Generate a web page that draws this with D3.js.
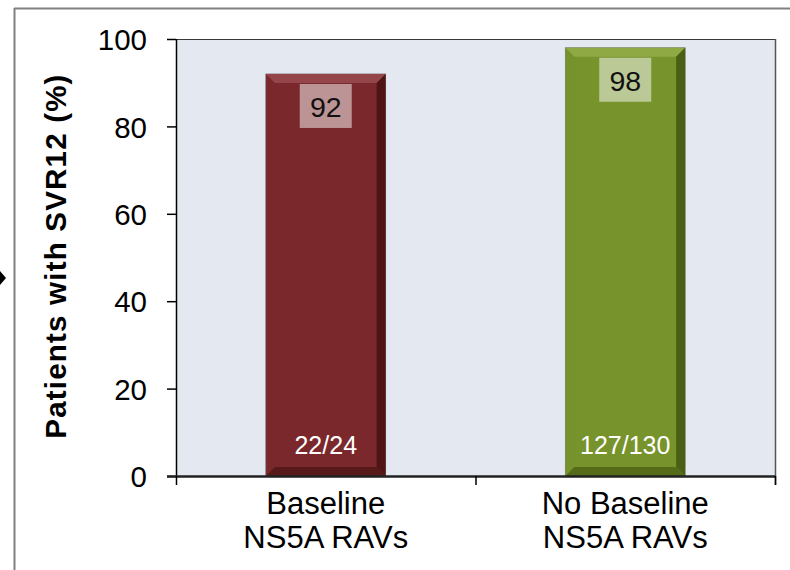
<!DOCTYPE html>
<html><head><meta charset="utf-8">
<script src="https://cdn.jsdelivr.net/npm/d3@7"></script>
<style>body{margin:0;background:#fff}svg{display:block}</style>
</head><body>
<svg id="c" width="790" height="570"></svg>
<script>
const categories = [["Baseline","NS5A RAVs"],["No Baseline","NS5A RAVs"]];
const values = [92, 98];
const fractions = ["22/24", "127/130"];
const colors = ["#7A282B", "#77932C"];
const lightColors = ["#94464A", "#8FAA44"];
const darkColors = ["#4E1416", "#4A5E14"];
const yTicks = [0, 20, 40, 60, 80, 100];
const yTitle = "Patients with SVR12 (%)";

(function(){
const svg = d3.select("#c");
const pL = 176, pR = 775, pT = 39, pB = 476;
const font = "Liberation Sans, Arial, sans-serif";

svg.append("line").attr("x1",14).attr("x2",790).attr("y1",8.5).attr("y2",8.5).attr("stroke","#808080").attr("stroke-width",2);
svg.append("line").attr("x1",14.5).attr("x2",14.5).attr("y1",8).attr("y2",570).attr("stroke","#808080").attr("stroke-width",2);
svg.append("path").attr("d","M0,271 L6,278 L0,285 Z").attr("fill","#000");

const x = d3.scaleBand().domain(d3.range(values.length)).range([pL, pR]).paddingInner(0.6).paddingOuter(0.3);
const y = d3.scaleLinear().domain([0, 100]).range([pB, pT]);

svg.append("rect").attr("x",pL).attr("y",pT).attr("width",pR-pL).attr("height",pB-pT).attr("fill","#E4E8F1");
svg.append("line").attr("x1",pL).attr("x2",pR).attr("y1",pT+0.5).attr("y2",pT+0.5).attr("stroke","#3a3a3a").attr("stroke-width",1.2);
svg.append("line").attr("x1",pR+0.5).attr("x2",pR+0.5).attr("y1",pT).attr("y2",pB+9).attr("stroke","#555").attr("stroke-width",1.5);

const bevel = 9;
values.forEach((v, i) => {
  const x0 = x(i), w = x.bandwidth(), y0 = y(v), y1 = y(0);
  const g = svg.append("g");
  g.append("rect").attr("x",x0).attr("y",y0).attr("width",w).attr("height",y1-y0).attr("fill",colors[i]).attr("stroke","#7f7f7f").attr("stroke-width",0.8);
  g.append("path").attr("d",`M${x0},${y0} L${x0+w},${y0} L${x0+w-bevel},${y0+bevel} L${x0+bevel},${y0+bevel} Z`).attr("fill",lightColors[i]);
  g.append("path").attr("d",`M${x0},${y0} L${x0+bevel},${y0+bevel} L${x0+bevel},${y1-bevel} L${x0},${y1} Z`).attr("fill",colors[i]).attr("opacity",0.6);
  g.append("path").attr("d",`M${x0+w},${y0} L${x0+w},${y1} L${x0+w-bevel},${y1-bevel} L${x0+w-bevel},${y0+bevel} Z`).attr("fill",darkColors[i]);
  g.append("path").attr("d",`M${x0},${y1} L${x0+bevel},${y1-bevel} L${x0+w-bevel},${y1-bevel} L${x0+w},${y1} Z`).attr("fill",darkColors[i]).attr("opacity",0.75);
  const cx = x0 + w/2;
  g.append("rect").attr("x",cx-26).attr("y",y0+10).attr("width",52).attr("height",44).attr("fill","#fff").attr("opacity",0.5);
  g.append("text").attr("x",cx).attr("y",y0+43).attr("text-anchor","middle").attr("font-family",font).attr("font-size",28.5).attr("fill","#111").text(v);
  g.append("text").attr("x",cx).attr("y",y1-22).attr("text-anchor","middle").attr("font-family",font).attr("font-size",25).attr("fill","#fff").text(fractions[i]);
});

const yAxis = svg.append("g").attr("transform",`translate(${pL},0)`)
  .call(d3.axisLeft(y).tickValues(yTicks).tickSize(9).tickPadding(20));
yAxis.select(".domain").attr("stroke","#000").attr("stroke-width",1.5).attr("d",`M0.5,${pT}V${pB}`);
yAxis.selectAll(".tick line").attr("stroke","#000").attr("stroke-width",1.5);
yAxis.selectAll(".tick text").attr("font-family",font).attr("font-size",29.5).attr("fill","#000").attr("dy","0.36em");

const xAxis = svg.append("g").attr("transform",`translate(0,${pB})`);
xAxis.append("line").attr("x1",pL-9).attr("x2",pR).attr("y1",0.5).attr("y2",0.5).attr("stroke","#222").attr("stroke-width",2.5);
const boundaries = d3.range(values.length+1).map(i => pL + i*(pR-pL)/values.length);
boundaries.forEach(b => {
  xAxis.append("line").attr("x1",b+0.5).attr("x2",b+0.5).attr("y1",0).attr("y2",9).attr("stroke","#000").attr("stroke-width",1.5);
});
categories.forEach((lines, i) => {
  const cx = x(i) + x.bandwidth()/2;
  lines.forEach((t, j) => {
    xAxis.append("text").attr("x",cx).attr("y",38 + j*34).attr("text-anchor","middle").attr("font-family",font).attr("font-size",31).attr("fill","#000").text(t);
  });
});

svg.append("text").attr("transform",`translate(66,256) rotate(-90)`).attr("text-anchor","middle")
  .attr("font-family",font).attr("font-size",29.5).attr("font-weight","bold").attr("letter-spacing",1.2).attr("fill","#000").text(yTitle);
})();
</script>
</body></html>
